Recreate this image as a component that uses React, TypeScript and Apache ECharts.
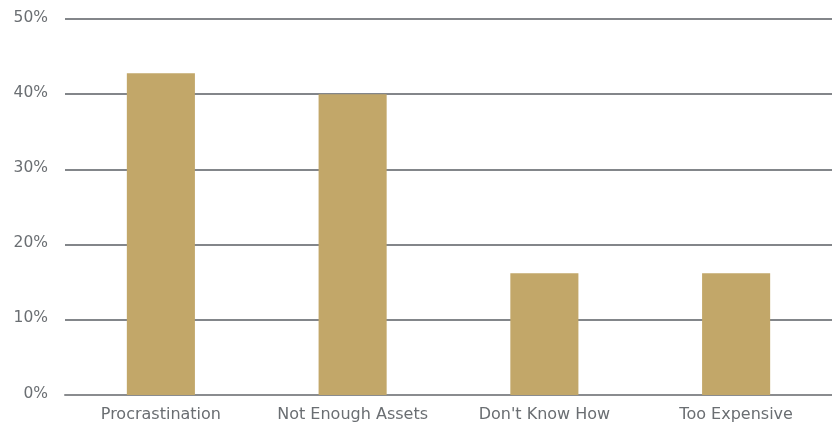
import React, { useEffect, useRef } from "react";
import * as echarts from "echarts";

const categories = ["Procrastination", "Not Enough Assets", "Don't Know How", "Too Expensive"];
const values = [42.8, 40, 16.2, 16.2];
const yTicks = [0, 10, 20, 30, 40, 50];

export default function App() {
  const ref = useRef<HTMLDivElement>(null);
  useEffect(() => {
    const chart = echarts.init(ref.current!, null, { renderer: "svg" });
    chart.setOption({
      animation: false,
      grid: { left: 65, right: 0, top: 19, bottom: 28, containLabel: false },
      xAxis: {
        type: "category",
        data: categories,
        axisLine: { show: true, lineStyle: { color: "#8a8c8f", width: 2 } },
        axisTick: { show: false },
        axisLabel: { color: "#6a6e72", fontSize: 16, fontFamily: "DejaVu Sans", margin: 10, interval: 0 },
      },
      yAxis: {
        type: "value",
        min: yTicks[0],
        max: yTicks[yTicks.length - 1],
        interval: 10,
        axisLine: { show: false },
        axisTick: { show: false },
        axisLabel: {
          color: "#6a6e72",
          fontSize: 15.5,
          fontFamily: "DejaVu Sans",
          margin: 17,
          formatter: "{a|{value}%}",
          verticalAlign: "middle",
          rich: {
            a: { color: "#6a6e72", fontSize: 15.5, fontFamily: "DejaVu Sans", padding: [0, 0, 5, 0] },
          },
        },
        splitLine: { lineStyle: { color: "#5a5e63", width: 1.5 } },
      },
      series: [
        {
          type: "bar",
          data: values,
          barWidth: "35.5%",
          itemStyle: { color: "#c2a769" },
        },
      ],
    });
    return () => chart.dispose();
  }, []);
  return <div ref={ref} style={{ position: "fixed", left: 0, top: 0, width: 832, height: 423 }} />;
}
